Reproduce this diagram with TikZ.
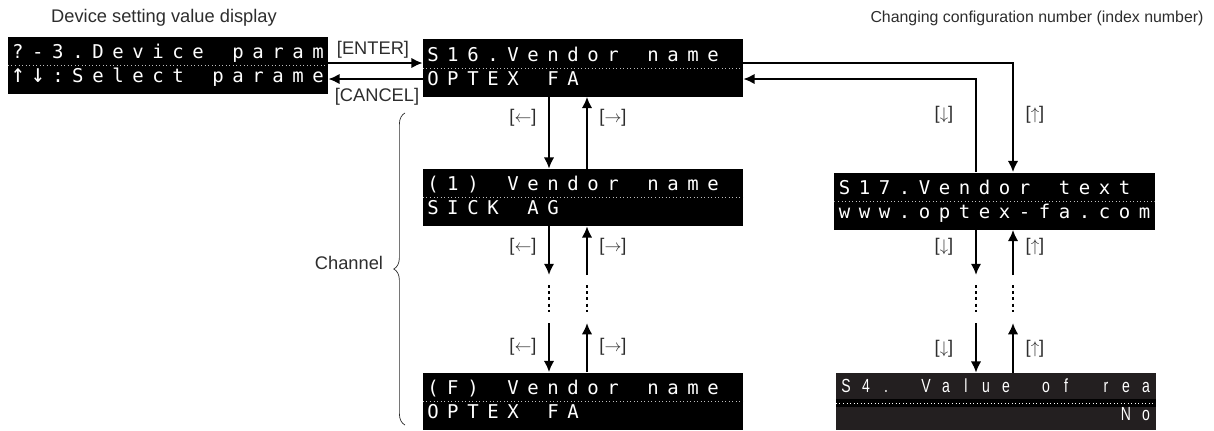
\documentclass[tikz,border=0pt]{standalone}
\usepackage{fontspec}
\setmainfont{Liberation Sans}
\newfontfamily\lcdfont{DejaVu Sans Mono}
\newfontfamily\narrowfont{Liberation Sans}
\usetikzlibrary{arrows.meta,decorations.pathreplacing,calc}
\definecolor{lcdDark}{RGB}{35,31,32}
\definecolor{dotC}{RGB}{190,190,190}
\definecolor{labelC}{RGB}{45,45,45}

% one character cell of the LCD rows
\newcommand\lcdshape[1]{#1}
\newcommand\lcdnarrow[1]{\scalebox{0.74}[1]{#1}}
\newcommand\lcdcell[1]{\makebox[0.5cm]{\lcdshape{#1}}}
\newcommand\lcdup{\scalebox{1.2}[1.35]{↑}}
\newcommand\lcddown{\scalebox{1.2}[1.35]{↓}}
\def\lcd#1{\rule[-3pt]{0pt}{12pt}\lcdrow#1\relax}
\def\lcdrow#1{\ifx\relax#1\else\lcdcell{#1}\expandafter\lcdrow\fi}

\tikzset{
	lcd/.style={fill=black, text=white, inner sep=0pt,
		minimum width=8cm, minimum height=1.425cm, text width=8cm, align=left,
		font=\lcdfont\fontsize{13.5}{17}\selectfont,
		path picture={\draw[dotC, dotted, line width=0.5pt]
			(path picture bounding box.west) -- (path picture bounding box.east);}},
	lcddark/.style={lcd, fill=lcdDark,
		font=\narrowfont\fontsize{13.5}{20}\selectfont\let\lcdshape\lcdnarrow,
		path picture={\fill[black] ([yshift=-3.9pt]path picture bounding box.west)
			rectangle ([yshift=1.8pt]path picture bounding box.east);
			\draw[white, dotted, line width=0.5pt]
			([yshift=-1pt]path picture bounding box.west) -- ([yshift=-1pt]path picture bounding box.east);}},
	flow/.style={-{Latex[length=8pt,width=7.5pt]}, line width=1.8pt},
	dots/.style={line width=1.8pt, dash pattern=on 2.2pt off 2.2pt},
	title/.style={font=\fontsize{13}{15}\selectfont, text=labelC},
	keylabel/.style={font=\fontsize{13}{15}\selectfont, text=labelC, inner sep=1pt},
	chbrace/.style={decorate, decoration={brace, amplitude=8pt}, line width=0.5pt, labelC},
}

\begin{document}
\begin{tikzpicture}[x=0.025cm, y=-0.025cm]
	\useasboundingbox (0,0) rectangle (1214,430);
	
	% =============== TITLES ===============
	\node[title] (tdev) at (164,18) {Device setting value display};
	\node[title, font=\fontsize{11.3}{14}\selectfont] (tidx) at (1037,18)
	{Changing configuration number (index number)};
	
	% =============== DISPLAYS ===============
	\node[lcd] (dev) at (168,65.5) {\lcd{?-3.Device~param}\\\lcd{\lcdup\lcddown:Select~parame}};
	\node[lcd] (s16) at (583,68) {\lcd{S16.Vendor~name}\\\lcd{OPTEX~FA}};
	\node[lcd] (ch1) at (583,197.5) {\lcd{(1)~Vendor~name}\\\lcd{SICK~AG}};
	\node[lcd] (chF) at (583,401) {\lcd{(F)~Vendor~name}\\\lcd{OPTEX~FA}};
	\node[lcd] (s17) at (994.5,201) {\lcd{S17.Vendor~text}\\\lcd{www.optex-fa.com}};
	\node[lcddark] (s4) at (996,401.5) {\lcd{S4.~Value~of~rea}\\\lcd{~~~~~~~~~~~~~~No}};
	
	% =============== HELPER COORDINATES ===============
	\coordinate (rowA) at (0,63);
	\coordinate (rowB) at (0,79);
	\coordinate (chdn) at (549,0);
	\coordinate (chup) at (587,0);
	\coordinate (ixdn) at (976,0);
	\coordinate (ixup) at (1013,0);
	\coordinate (gapT) at (0,275);
	\coordinate (gapB) at (0,323);
	\coordinate (dotT) at (0,285);
	\coordinate (dotB) at (0,312);
	
	% =============== ENTER / CANCEL ===============
	\draw[flow] (dev.east |- rowA) -- (s16.west |- rowA);
	\draw[flow] (s16.west |- rowB) -- (dev.east |- rowB);
	\node[keylabel] (kEnt) at (373,50) {[ENTER]};
	\node[keylabel] (kCan) at (377,97) {[CANCEL]};
	
	% =============== INDEX NUMBER (right) ===============
	\draw[flow] (s16.east |- rowA) -| (s17.north -| ixup);
	\draw[flow] (s17.north -| ixdn) |- (s16.east |- rowB);
	\draw[flow] (s17.south -| ixdn) -- (gapT -| ixdn);
	\draw[dots] (dotT -| ixdn) -- (dotB -| ixdn);
	\draw[flow] (gapB -| ixdn) -- (s4.north -| ixdn);
	\draw[flow] (s4.north -| ixup) -- (gapB -| ixup);
	\draw[dots] (dotT -| ixup) -- (dotB -| ixup);
	\draw[flow] (gapT -| ixup) -- (s17.south -| ixup);
	
	\node[keylabel] (kD1) at (944,115) {[$\downarrow$]};
	\node[keylabel] (kU1) at (1035,115) {[$\uparrow$]};
	\node[keylabel] (kD2) at (944,247) {[$\downarrow$]};
	\node[keylabel] (kU2) at (1035,247) {[$\uparrow$]};
	\node[keylabel] (kD3) at (944,349) {[$\downarrow$]};
	\node[keylabel] (kU3) at (1035,349) {[$\uparrow$]};
	
	% =============== CHANNEL (middle) ===============
	\draw[flow] (s16.south -| chdn) -- (ch1.north -| chdn);
	\draw[flow] (ch1.north -| chup) -- (s16.south -| chup);
	\draw[flow] (ch1.south -| chdn) -- (gapT -| chdn);
	\draw[dots] (dotT -| chdn) -- (dotB -| chdn);
	\draw[flow] (gapB -| chdn) -- (chF.north -| chdn);
	\draw[flow] (chF.north -| chup) -- (gapB -| chup);
	\draw[dots] (dotT -| chup) -- (dotB -| chup);
	\draw[flow] (gapT -| chup) -- (ch1.south -| chup);
	
	\node[keylabel] (kL1) at (523,118) {[$\leftarrow$]};
	\node[keylabel] (kR1) at (613,118) {[$\rightarrow$]};
	\node[keylabel] (kL2) at (523,247) {[$\leftarrow$]};
	\node[keylabel] (kR2) at (613,247) {[$\rightarrow$]};
	\node[keylabel] (kL3) at (523,347) {[$\leftarrow$]};
	\node[keylabel] (kR3) at (613,347) {[$\rightarrow$]};
	
	\coordinate (brB) at (405,425);
	\coordinate (brT) at (405,113);
	\draw[chbrace] (brB) -- (brT);
	\node[title, anchor=east] (chan) at (388,263) {Channel};
	
\end{tikzpicture}
\end{document}
